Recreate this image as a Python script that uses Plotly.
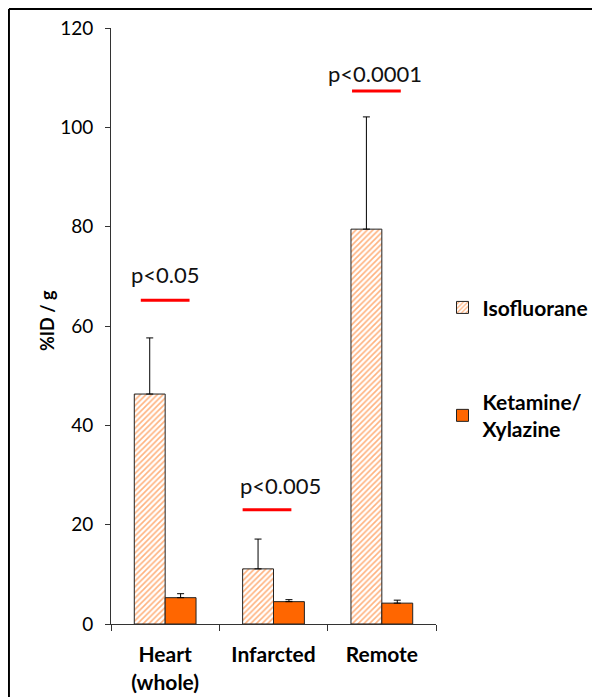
import plotly.graph_objects as go

categories = ["Heart<br>(whole)", "Infarcted", "Remote"]
iso_values = [46.3, 11.1, 79.5]
iso_errors = [11.3, 6.0, 22.6]
ket_values = [5.3, 4.5, 4.2]
ket_errors = [0.8, 0.4, 0.6]
sig_labels = ["p<0.05", "p<0.005", "p<0.0001"]
sig_line_y = [65.2, 23.0, 107.3]
sig_text_y = [70.3, 27.9, 110.9]
y_ticks = [0, 20, 40, 60, 80, 100, 120]

ORANGE = "#FF6600"
FONT = "Lato"

fig = go.Figure()
fig.add_trace(go.Bar(
    x=categories, y=iso_values, name="Isofluorane", legendgroup="a",
    marker=dict(color="white", line=dict(color="#222", width=1),
                pattern=dict(shape="/", fgcolor=ORANGE, bgcolor="white", size=4, solidity=0.4)),
    error_y=dict(type="data", array=iso_errors, arrayminus=[0]*3, symmetric=False,
                 color="black", thickness=1, width=3.5),
))
fig.add_trace(go.Bar(
    x=categories, y=ket_values, name="Ketamine/<br>Xylazine", legendgroup="b",
    marker=dict(color=ORANGE, line=dict(color="#222", width=1)),
    error_y=dict(type="data", array=ket_errors, arrayminus=[0]*3, symmetric=False,
                 color="black", thickness=1, width=3.5),
))

shapes = []
annotations = []
line_offsets = [0.0, -0.06, -0.05]
text_offsets = [0.0, 0.06, -0.06]
for i, (lab, ly, ty) in enumerate(zip(sig_labels, sig_line_y, sig_text_y)):
    c = i + line_offsets[i]
    shapes.append(dict(type="line", xref="x", yref="y", x0=c - 0.225, x1=c + 0.225,
                       y0=ly, y1=ly, line=dict(color="red", width=3)))
    annotations.append(dict(xref="x", yref="y", x=i + text_offsets[i], y=ty, text=lab,
                            showarrow=False, font=dict(family=FONT, size=22, color="#111"),
                            xanchor="center", yanchor="middle"))

# outer frame (top and left edges)
shapes.append(dict(type="line", xref="paper", yref="paper", x0=-0.314, x1=1.6, y0=1.0319, y1=1.0319,
                   line=dict(color="black", width=2)))
shapes.append(dict(type="line", xref="paper", yref="paper", x0=-0.314, x1=-0.314, y0=1.0319, y1=-0.2,
                   line=dict(color="black", width=2)))

annotations.append(dict(xref="paper", yref="paper", x=-0.197, y=0.51, text="<b>%ID / g</b>",
                        textangle=-90, showarrow=False, font=dict(family=FONT, size=18, color="black"),
                        xanchor="center", yanchor="middle"))

fig.update_layout(
    width=592, height=689,
    margin=dict(l=103, r=164, t=20, b=73, autoexpand=False),
    plot_bgcolor="white", paper_bgcolor="white",
    barmode="group", bargap=0.43, bargroupgap=0,
    shapes=shapes, annotations=annotations,
    showlegend=True,
    legend=dict(x=1.02, y=0.565, xanchor="left", yanchor="top",
                font=dict(family=FONT, size=21, color="black", weight="bold"),
                tracegroupgap=64, bgcolor="rgba(0,0,0,0)"),
    xaxis=dict(showline=True, linecolor="#333", linewidth=1, ticks="outside", tickson="boundaries",
               ticklen=6, tickcolor="#333", ticklabelstandoff=12, automargin=False,
               tickfont=dict(family=FONT, size=21, color="black", weight="bold")),
    yaxis=dict(range=[0, 120], tickvals=y_ticks, showline=True, linecolor="#333", linewidth=1,
               ticks="outside", ticklen=5, tickcolor="#333", showgrid=False, zeroline=False,
               ticklabelstandoff=8, automargin=False,
               tickfont=dict(family=FONT, size=19, color="black")),
    font=dict(family=FONT),
)

fig.write_html("out.html")
